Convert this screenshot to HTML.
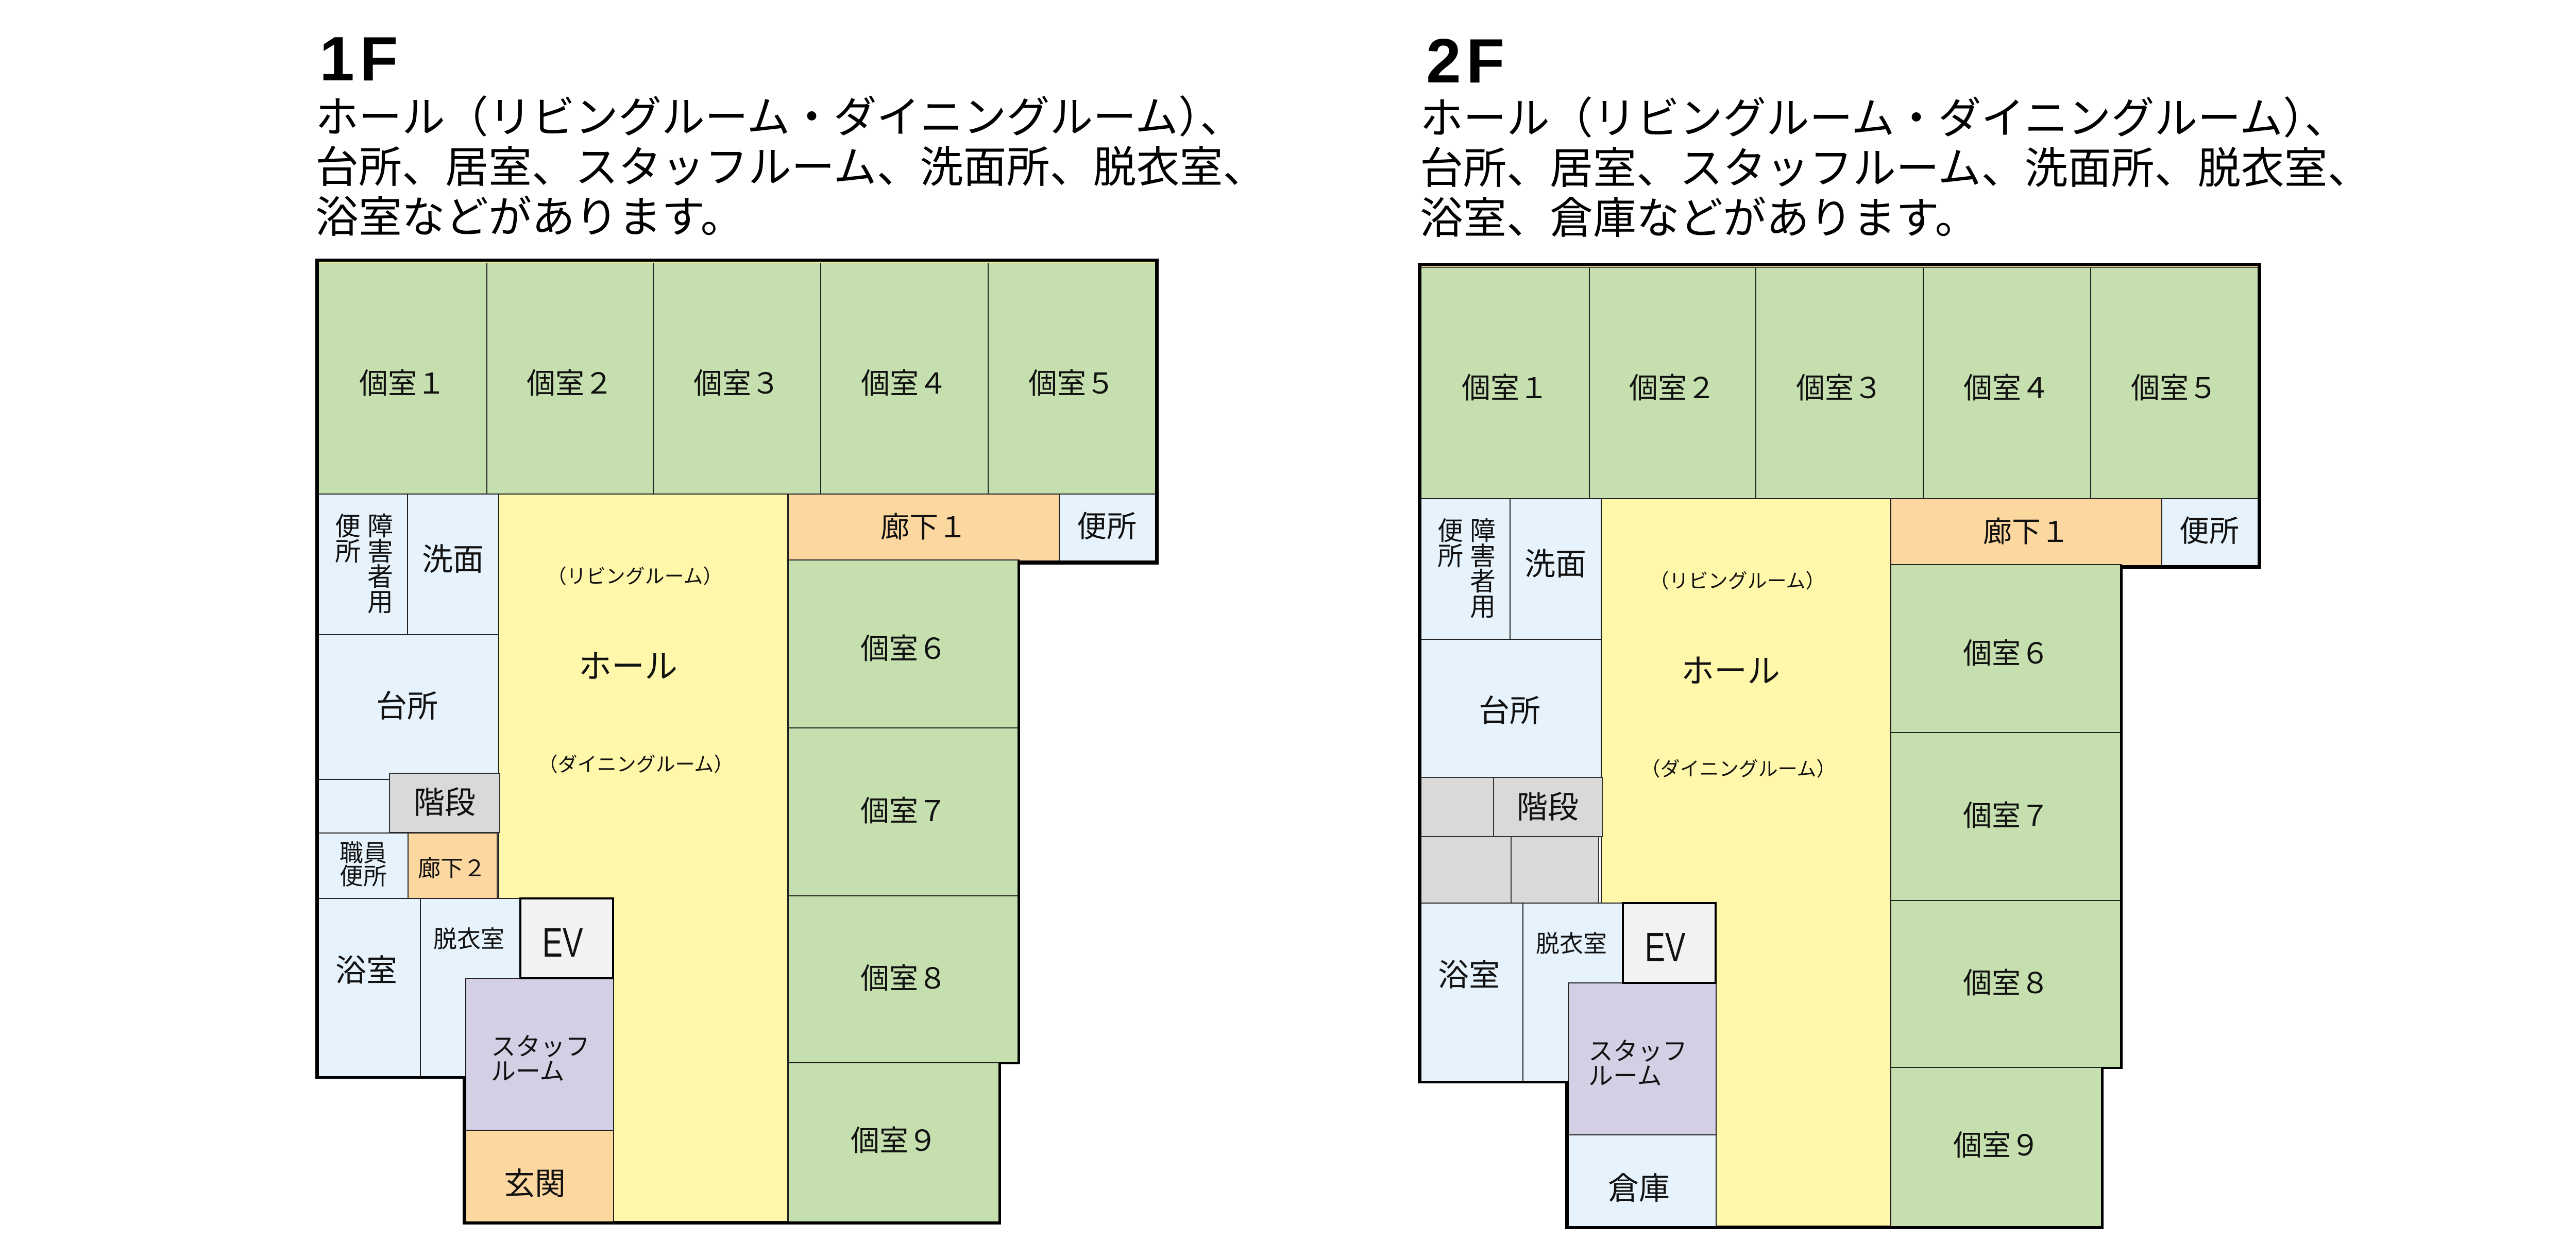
<!DOCTYPE html>
<html lang="ja">
<head>
<meta charset="utf-8">
<style>
html,body{margin:0;padding:0;background:#fff;}
body{width:5028px;height:2406px;position:relative;overflow:hidden;font-family:"Liberation Sans","Noto Sans CJK JP",sans-serif;color:#111;}
.fl{position:absolute;width:2300px;height:2400px;}
.c{position:absolute;box-sizing:border-box;border:2px solid #222;}
.g{background:#c5dfaf;}
.b{background:#e7f3fc;}
.y{background:#fff8aa;}
.o{background:#fcd7a0;}
.p{background:#d4cfe4;}
.gr{background:#d9d9d9;border-color:#333;}
.ev{background:#f2f2f2;border:4px solid #000;}
.k{position:absolute;background:#000;}
.t{position:absolute;white-space:nowrap;text-align:center;line-height:1;transform:translate(-50%,-50%);font-family:"Liberation Sans","Noto Sans CJK JP",sans-serif;color:#111;}
.v{position:absolute;text-align:center;font-family:"Liberation Sans","Noto Sans CJK JP",sans-serif;color:#111;}
.h{position:absolute;white-space:nowrap;font-size:84px;line-height:97px;font-family:"Liberation Sans","Noto Sans CJK JP",sans-serif;color:#000;}
.ti{position:absolute;white-space:nowrap;font-size:122px;line-height:122px;font-weight:bold;letter-spacing:10px;font-family:"Liberation Sans","Noto Sans CJK JP",sans-serif;color:#000;}
</style>
</head>
<body>

<!-- Titles & headers -->
<div class="ti" style="left:620px;top:53px;">1F</div>
<div class="h" style="left:612px;top:180px;">ホール（リビングルーム・ダイニングルーム）、<br>台所、居室、スタッフルーム、洗面所、脱衣室、<br>浴室などがあります。</div>

<div class="ti" style="left:2768px;top:57px;">2F</div>
<div class="h" style="left:2756px;top:182px;">ホール（リビングルーム・ダイニングルーム）、<br>台所、居室、スタッフルーム、洗面所、脱衣室、<br>浴室、倉庫などがあります。</div>

<!-- ================= 1F ================= -->
<div class="fl" style="left:0;top:0;">
  <div class="c y" style="left:967px;top:958px;width:563px;height:1414px;"></div>

  <div class="c g" style="left:616px;top:509px;width:330px;height:451px;"></div>
  <div class="c g" style="left:944px;top:509px;width:325px;height:451px;"></div>
  <div class="c g" style="left:1267px;top:509px;width:327px;height:451px;"></div>
  <div class="c g" style="left:1592px;top:509px;width:327px;height:451px;"></div>
  <div class="c g" style="left:1917px;top:509px;width:327px;height:451px;"></div>

  <div class="c b" style="left:616px;top:958px;width:176px;height:275px;"></div>
  <div class="c b" style="left:790px;top:958px;width:179px;height:275px;"></div>
  <div class="c b" style="left:616px;top:1231px;width:353px;height:283px;"></div>
  <div class="c b" style="left:616px;top:1512px;width:142px;height:106px;"></div>
  <div class="c gr" style="left:755px;top:1500px;width:216px;height:117px;"></div>
  <div class="c b" style="left:616px;top:1616px;width:177px;height:129px;"></div>
  <div class="c o" style="left:791px;top:1616px;width:175px;height:129px;"></div>
  <div class="c b" style="left:616px;top:1743px;width:201px;height:350px;"></div>
  <div class="c b" style="left:815px;top:1743px;width:196px;height:350px;"></div>
  <div class="c p" style="left:903px;top:1898px;width:289px;height:297px;"></div>
  <div class="c o" style="left:903px;top:2193px;width:289px;height:180px;"></div>
  <div class="c ev" style="left:1008px;top:1742px;width:184px;height:159px;"></div>

  <div class="c o" style="left:1529px;top:958px;width:528px;height:132px;"></div>
  <div class="c b" style="left:2055px;top:958px;width:189px;height:132px;"></div>
  <div class="c g" style="left:1529px;top:1086px;width:450px;height:328px;"></div>
  <div class="c g" style="left:1529px;top:1412px;width:450px;height:328px;"></div>
  <div class="c g" style="left:1529px;top:1738px;width:450px;height:327px;"></div>
  <div class="c g" style="left:1529px;top:2062px;width:413px;height:312px;"></div>

  <!-- outer walls -->
  <div class="k" style="left:612px;top:502px;width:1637px;height:6px;"></div>
  <div style="position:absolute;left:619px;top:508px;width:1623px;height:2px;background:#fff6a0;"></div>
  <div class="k" style="left:612px;top:502px;width:7px;height:1591px;"></div>
  <div class="k" style="left:2242px;top:502px;width:7px;height:594px;"></div>
  <div class="k" style="left:1975px;top:1088px;width:274px;height:8px;"></div>
  <div class="k" style="left:1975px;top:1088px;width:5px;height:978px;"></div>
  <div class="k" style="left:1938px;top:2062px;width:42px;height:4px;"></div>
  <div class="k" style="left:1938px;top:2062px;width:5px;height:315px;"></div>
  <div class="k" style="left:898px;top:2371px;width:1045px;height:6px;"></div>
  <div class="k" style="left:898px;top:2089px;width:7px;height:288px;"></div>
  <div class="k" style="left:612px;top:2089px;width:293px;height:5px;"></div>

  <!-- labels -->
  <div class="t" style="left:781px;top:745px;font-size:56px;">個室１</div>
  <div class="t" style="left:1106px;top:745px;font-size:56px;">個室２</div>
  <div class="t" style="left:1430px;top:745px;font-size:56px;">個室３</div>
  <div class="t" style="left:1755px;top:745px;font-size:56px;">個室４</div>
  <div class="t" style="left:2080px;top:745px;font-size:56px;">個室５</div>
  <div class="t" style="left:1754px;top:1260px;font-size:56px;">個室６</div>
  <div class="t" style="left:1754px;top:1575px;font-size:56px;">個室７</div>
  <div class="t" style="left:1754px;top:1900px;font-size:56px;">個室８</div>
  <div class="t" style="left:1735px;top:2215px;font-size:56px;">個室９</div>
  <div class="t" style="left:1793px;top:1024px;font-size:56px;">廊下１</div>
  <div class="t" style="left:2148px;top:1023px;font-size:58px;">便所</div>
  <div class="t" style="left:879px;top:1087px;font-size:60px;">洗面</div>
  <div class="v" style="left:648px;top:998px;width:54px;font-size:50px;line-height:49px;">便<br>所</div>
  <div class="v" style="left:711px;top:998px;width:54px;font-size:50px;line-height:49px;">障<br>害<br>者<br>用</div>
  <div class="t" style="left:790px;top:1372px;font-size:60px;">台所</div>
  <div class="t" style="left:863px;top:1559px;font-size:60px;">階段</div>
  <div class="t" style="left:705px;top:1679px;font-size:46px;line-height:45px;">職員<br>便所</div>
  <div class="t" style="left:877px;top:1687px;font-size:44px;">廊下２</div>
  <div class="t" style="left:711px;top:1885px;font-size:60px;">浴室</div>
  <div class="t" style="left:910px;top:1823px;font-size:46px;">脱衣室</div>
  <div class="t" style="left:1092px;top:1830px;font-size:80px;transform:translate(-50%,-50%) scaleX(0.74);">EV</div>
  <div class="v" style="left:953px;top:2009px;font-size:48px;line-height:48px;text-align:left;white-space:nowrap;">スタッフ<br>ルーム</div>
  <div class="t" style="left:1038px;top:2299px;font-size:60px;">玄関</div>
  <div class="t" style="left:1219px;top:1294px;font-size:64px;">ホール</div>
  <div class="t" style="left:1232px;top:1120px;font-size:38px;">（リビングルーム）</div>
  <div class="t" style="left:1234px;top:1485px;font-size:38px;">（ダイニングルーム）</div>
</div>

<!-- ================= 2F ================= -->
<div class="fl" style="left:2140px;top:9px;">
  <div class="c y" style="left:967px;top:958px;width:563px;height:1414px;"></div>

  <div class="c g" style="left:616px;top:509px;width:330px;height:451px;"></div>
  <div class="c g" style="left:944px;top:509px;width:325px;height:451px;"></div>
  <div class="c g" style="left:1267px;top:509px;width:327px;height:451px;"></div>
  <div class="c g" style="left:1592px;top:509px;width:327px;height:451px;"></div>
  <div class="c g" style="left:1917px;top:509px;width:327px;height:451px;"></div>

  <div class="c b" style="left:616px;top:958px;width:176px;height:275px;"></div>
  <div class="c b" style="left:790px;top:958px;width:179px;height:275px;"></div>
  <div class="c b" style="left:616px;top:1231px;width:353px;height:270px;"></div>
  <div class="c gr" style="left:616px;top:1499px;width:144px;height:117px;"></div>
  <div class="c gr" style="left:758px;top:1499px;width:213px;height:117px;"></div>
  <div class="c gr" style="left:616px;top:1614px;width:178px;height:131px;"></div>
  <div class="c gr" style="left:792px;top:1614px;width:172px;height:131px;"></div>
  <div class="c b" style="left:616px;top:1743px;width:201px;height:350px;"></div>
  <div class="c b" style="left:815px;top:1743px;width:196px;height:350px;"></div>
  <div class="c p" style="left:903px;top:1898px;width:289px;height:297px;"></div>
  <div class="c b" style="left:903px;top:2193px;width:289px;height:180px;"></div>
  <div class="c ev" style="left:1008px;top:1742px;width:184px;height:159px;"></div>

  <div class="c o" style="left:1529px;top:958px;width:528px;height:132px;"></div>
  <div class="c b" style="left:2055px;top:958px;width:189px;height:132px;"></div>
  <div class="c g" style="left:1529px;top:1086px;width:450px;height:328px;"></div>
  <div class="c g" style="left:1529px;top:1412px;width:450px;height:328px;"></div>
  <div class="c g" style="left:1529px;top:1738px;width:450px;height:327px;"></div>
  <div class="c g" style="left:1529px;top:2062px;width:413px;height:312px;"></div>

  <!-- outer walls -->
  <div class="k" style="left:612px;top:502px;width:1637px;height:6px;"></div>
  <div style="position:absolute;left:619px;top:508px;width:1623px;height:2px;background:#fff6a0;"></div>
  <div class="k" style="left:612px;top:502px;width:7px;height:1591px;"></div>
  <div class="k" style="left:2242px;top:502px;width:7px;height:594px;"></div>
  <div class="k" style="left:1975px;top:1088px;width:274px;height:8px;"></div>
  <div class="k" style="left:1975px;top:1088px;width:5px;height:978px;"></div>
  <div class="k" style="left:1938px;top:2062px;width:42px;height:4px;"></div>
  <div class="k" style="left:1938px;top:2062px;width:5px;height:315px;"></div>
  <div class="k" style="left:898px;top:2371px;width:1045px;height:6px;"></div>
  <div class="k" style="left:898px;top:2089px;width:7px;height:288px;"></div>
  <div class="k" style="left:612px;top:2089px;width:293px;height:5px;"></div>

  <!-- labels -->
  <div class="t" style="left:781px;top:745px;font-size:56px;">個室１</div>
  <div class="t" style="left:1106px;top:745px;font-size:56px;">個室２</div>
  <div class="t" style="left:1430px;top:745px;font-size:56px;">個室３</div>
  <div class="t" style="left:1755px;top:745px;font-size:56px;">個室４</div>
  <div class="t" style="left:2080px;top:745px;font-size:56px;">個室５</div>
  <div class="t" style="left:1754px;top:1260px;font-size:56px;">個室６</div>
  <div class="t" style="left:1754px;top:1575px;font-size:56px;">個室７</div>
  <div class="t" style="left:1754px;top:1900px;font-size:56px;">個室８</div>
  <div class="t" style="left:1735px;top:2215px;font-size:56px;">個室９</div>
  <div class="t" style="left:1793px;top:1024px;font-size:56px;">廊下１</div>
  <div class="t" style="left:2148px;top:1023px;font-size:58px;">便所</div>
  <div class="t" style="left:879px;top:1087px;font-size:60px;">洗面</div>
  <div class="v" style="left:648px;top:998px;width:54px;font-size:50px;line-height:49px;">便<br>所</div>
  <div class="v" style="left:711px;top:998px;width:54px;font-size:50px;line-height:49px;">障<br>害<br>者<br>用</div>
  <div class="t" style="left:790px;top:1372px;font-size:60px;">台所</div>
  <div class="t" style="left:864px;top:1559px;font-size:60px;">階段</div>
  <div class="t" style="left:711px;top:1885px;font-size:60px;">浴室</div>
  <div class="t" style="left:910px;top:1823px;font-size:46px;">脱衣室</div>
  <div class="t" style="left:1092px;top:1830px;font-size:80px;transform:translate(-50%,-50%) scaleX(0.74);">EV</div>
  <div class="v" style="left:943px;top:2009px;font-size:48px;line-height:48px;text-align:left;white-space:nowrap;">スタッフ<br>ルーム</div>
  <div class="t" style="left:1041px;top:2299px;font-size:60px;">倉庫</div>
  <div class="t" style="left:1219px;top:1294px;font-size:64px;">ホール</div>
  <div class="t" style="left:1232px;top:1120px;font-size:38px;">（リビングルーム）</div>
  <div class="t" style="left:1234px;top:1485px;font-size:38px;">（ダイニングルーム）</div>
</div>

</body>
</html>
